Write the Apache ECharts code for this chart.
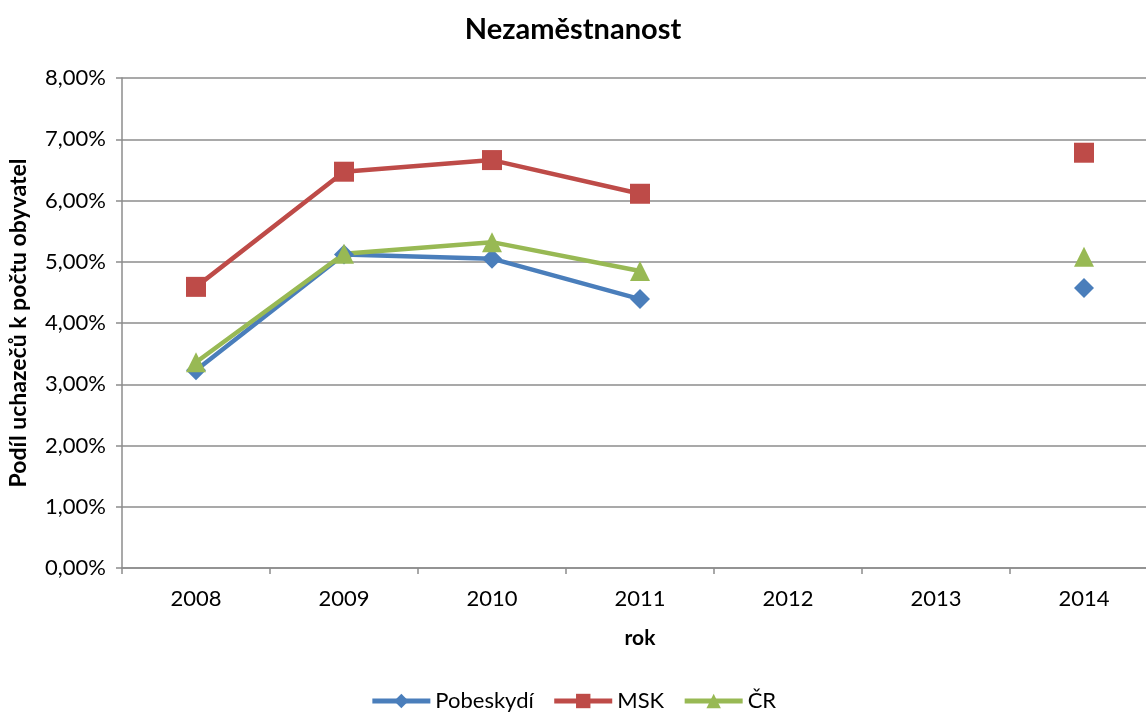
<!DOCTYPE html>
<html>
<head>
<meta charset="utf-8">
<script src="https://cdn.jsdelivr.net/npm/echarts@6/dist/echarts.min.js"></script>
<style>
  html, body { margin: 0; padding: 0; background: #fff; }
  #chart { width: 1146px; height: 713px; }
</style>
</head>
<body>
<div id="chart"></div>
<script>
const years = ['2008', '2009', '2010', '2011', '2012', '2013', '2014']
const pobeskydi = [3.23, 5.12, 5.05, 4.39, null, null, 4.57]
const msk = [4.59, 6.47, 6.66, 6.11, null, null, 6.78]
const cr = [3.36, 5.13, 5.32, 4.85, null, null, 5.08]

const font = 'Lato, "Open Sans", sans-serif'
const gridColor = '#8c8c8c'

function makeSeries(name, data, color, symbol, size) {
    return {
        name: name,
        type: 'line',
        data: data,
        symbol: symbol,
        symbolSize: size,
        showAllSymbol: true,
        lineStyle: { width: 4.5, color: color },
        itemStyle: { color: color },
        emphasis: { disabled: true },
        animation: false
    }
}

let chartDom = document.getElementById('chart')
let myChart = echarts.init(chartDom, null, { renderer: 'canvas' })

myChart.setOption({
    backgroundColor: '#fff',
    title: {
        text: 'Nezaměstnanost',
        left: 'center',
        top: 10,
        textStyle: { fontFamily: font, fontSize: 29, fontWeight: 'bold', color: '#000' }
    },
    legend: {
        bottom: -4,
        left: 'center',
        itemWidth: 58,
        itemHeight: 18,
        itemGap: 18,
        lineStyle: { width: 5 },
        textStyle: { fontFamily: font, fontSize: 22, color: '#000' },
        data: ['Pobeskydí', 'MSK', 'ČR']
    },
    grid: { left: 122, width: 1036, top: 78, bottom: 145, containLabel: false, outerBoundsMode: 'none' },
    xAxis: {
        type: 'category',
        data: years,
        name: 'rok',
        nameLocation: 'middle',
        nameGap: 60,
        nameTextStyle: { fontFamily: font, fontSize: 21, fontWeight: 'bold', color: '#000' },
        axisLine: { lineStyle: { color: gridColor, width: 1.5 } },
        axisTick: { show: true, length: 6, lineStyle: { color: gridColor, width: 1.5 } },
        axisLabel: { fontFamily: font, fontSize: 22, color: '#000', margin: 20 }
    },
    yAxis: {
        type: 'value',
        min: 0,
        max: 8,
        interval: 1,
        name: 'Podíl uchazečů k počtu obyvatel',
        nameLocation: 'middle',
        nameGap: 92,
        nameTextStyle: { fontFamily: font, fontSize: 23, fontWeight: 'bold', color: '#000' },
        axisLine: { show: true, lineStyle: { color: gridColor, width: 1.5 } },
        axisTick: { show: true, length: 6, lineStyle: { color: gridColor, width: 1.5 } },
        splitLine: { lineStyle: { color: gridColor, width: 1.5 } },
        axisLabel: {
            fontFamily: font, fontSize: 22, color: '#000', margin: 16,
            formatter: v => v.toFixed(2).replace('.', ',') + '%'
        }
    },
    series: [
        makeSeries('Pobeskydí', pobeskydi, '#4a7ebb', 'diamond', 20),
        makeSeries('MSK', msk, '#be4b48', 'rect', 20),
        makeSeries('ČR', cr, '#98b954', 'triangle', 20)
    ]
})

window.addEventListener('resize', () => {
    myChart.resize()
})
</script>
</body>
</html>
